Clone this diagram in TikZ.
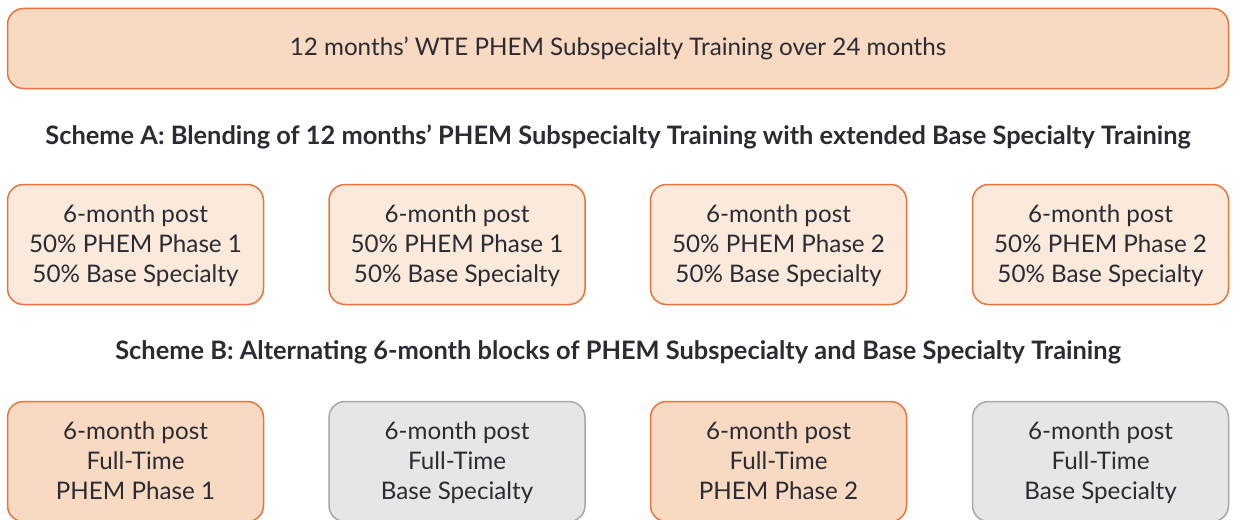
\documentclass[tikz,border=0pt]{standalone}
\usepackage{fontspec}
\setmainfont{Lato}
\definecolor{edgeor}{HTML}{E8743B}
\definecolor{fillor}{HTML}{F8D9C2}
\definecolor{filllt}{HTML}{FBE9DC}
\definecolor{fillgr}{HTML}{E6E6E6}
\definecolor{edgegr}{HTML}{A8A8A8}
\definecolor{ink}{HTML}{2B2B33}
% three centred lines with equal spacing, regardless of descenders
\newcommand\linestrut{\rule[-7.5pt]{0pt}{30pt}}
\newcommand\threelines[3]{\linestrut#1\\\linestrut#2\\\linestrut#3}
\tikzset{
  basebox/.style={rectangle, rounded corners=16pt, line width=1.5pt, align=center,
    text=ink, font=\fontsize{24.2}{30}\selectfont, inner sep=0pt},
  headbox/.style={basebox, draw=edgeor, fill=fillor, minimum width=1221pt, minimum height=80pt},
  blendbox/.style={basebox, draw=edgeor, fill=filllt, minimum width=256pt, minimum height=120pt},
  phembox/.style={basebox, draw=edgeor, fill=fillor, minimum width=256pt, minimum height=120pt},
  basespbox/.style={basebox, draw=edgegr, fill=fillgr, minimum width=256pt, minimum height=120pt},
  schemetitle/.style={text=ink, font=\bfseries\fontsize{25.4}{28}\selectfont, inner sep=0pt}
}
\begin{document}
\begin{tikzpicture}[x=1pt,y=-1pt]
\clip (0,0) rectangle (1233,519);
\useasboundingbox (0,0) rectangle (1233,519);
\fill[white] (0,0) rectangle (1233,519);

\node[headbox] (head) at (618,48.5) {12 months’ WTE PHEM Subspecialty Training over 24 months};

\node[schemetitle] (titleA) at (618,137) {Scheme A: Blending of 12 months’ PHEM Subspecialty Training with extended Base Specialty Training};

\node[blendbox] (a1) at (135.5,244.5) {\threelines{6-month post}{50\% PHEM Phase 1}{50\% Base Specialty}};
\node[blendbox] (a2) at (457,244.5) {\threelines{6-month post}{50\% PHEM Phase 1}{50\% Base Specialty}};
\node[blendbox] (a3) at (778.5,244.5) {\threelines{6-month post}{50\% PHEM Phase 2}{50\% Base Specialty}};
\node[blendbox] (a4) at (1100.5,244.5) {\threelines{6-month post}{50\% PHEM Phase 2}{50\% Base Specialty}};

\node[schemetitle] (titleB) at (618,352) {Scheme B: Alternating 6-month blocks of PHEM Subspecialty and Base Specialty Training};

\node[phembox] (b1) at (135.5,461.5) {\threelines{6-month post}{Full-Time}{PHEM Phase 1}};
\node[basespbox] (b2) at (457,461.5) {\threelines{6-month post}{Full-Time}{Base Specialty}};
\node[phembox] (b3) at (778.5,461.5) {\threelines{6-month post}{Full-Time}{PHEM Phase 2}};
\node[basespbox] (b4) at (1100.5,461.5) {\threelines{6-month post}{Full-Time}{Base Specialty}};
\end{tikzpicture}
\end{document}
